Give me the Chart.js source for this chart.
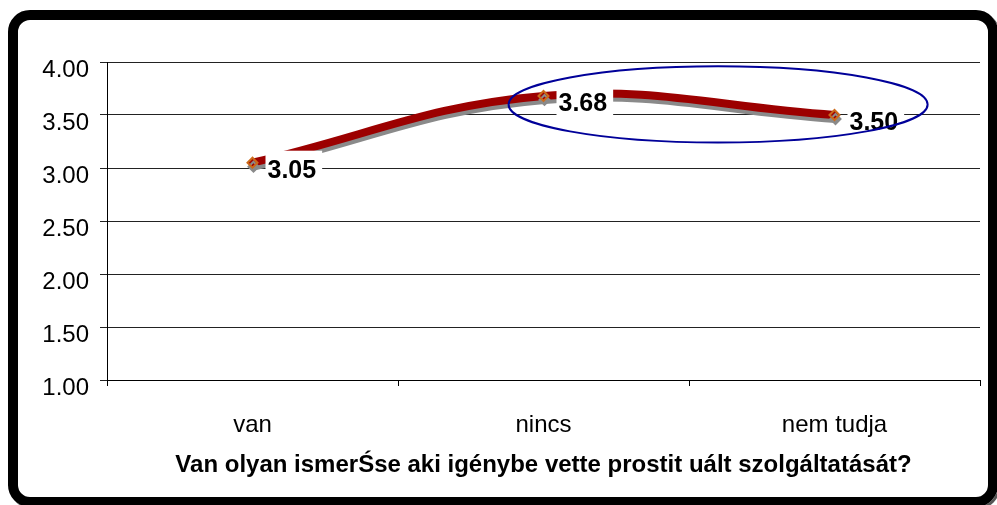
<!DOCTYPE html>
<html>
<head>
<meta charset="utf-8">
<script src="https://cdn.jsdelivr.net/npm/chart.js@4"></script>
<style>
  html, body { margin: 0; padding: 0; background: #fff; }
  #wrap { position: relative; width: 997px; height: 505px; overflow: hidden; }
  #frame {
    position: absolute; left: 8px; top: 10px; width: 970px; height: 477px;
    border: 10px solid #000; border-radius: 22px;
    box-shadow: 2px 2px 0 #555;
  }
  #holder { position: absolute; left: 0; top: 0; width: 997px; height: 505px; }
</style>
</head>
<body>
<div id="wrap">
  <div id="frame"></div>
  <div id="holder"><canvas id="line-chart"></canvas></div>
</div>
<script>
var categories = ["van", "nincs", "nem tudja"];
var means = [3.05, 3.68, 3.50];
var axisTitle = "Van olyan ismerŚse aki igénybe vette prostit uált szolgáltatását?";
// highlight ellipse: [center category index, center value, x radius (categories), y radius (values)]
var ellipse = [1.6, 3.60, 0.72, 0.36];

var FONT = "'Liberation Sans', Arial, sans-serif";

var shadowPlugin = {
  id: 'lineShadow',
  beforeDatasetDraw: function(chart) {
    var ctx = chart.ctx;
    ctx.save();
    ctx.shadowColor = '#8a8a8a';
    ctx.shadowOffsetX = 1;
    ctx.shadowOffsetY = 4;
    ctx.shadowBlur = 0;
  },
  afterDatasetDraw: function(chart) {
    chart.ctx.restore();
  }
};

var labelPlugin = {
  id: 'valueLabels',
  afterDatasetsDraw: function(chart) {
    var ctx = chart.ctx;
    var meta = chart.getDatasetMeta(0);
    ctx.save();
    ctx.font = 'bold 25px ' + FONT;
    ctx.textBaseline = 'middle';
    ctx.textAlign = 'left';
    meta.data.forEach(function(pt, i) {
      var txt = means[i].toFixed(2);
      var w = ctx.measureText(txt).width;
      var x = pt.x + 15, y = pt.y + 8;
      ctx.fillStyle = '#fff';
      ctx.fillRect(x - 2, y - 20, w + 8, 34);
      ctx.fillStyle = '#000';
      ctx.fillText(txt, x, y);
    });
    ctx.restore();
  }
};

var ellipsePlugin = {
  id: 'ellipse',
  afterDraw: function(chart) {
    var xs = chart.scales.x, ys = chart.scales.y;
    var cx = xs.getPixelForValue(ellipse[0]);
    var cy = ys.getPixelForValue(ellipse[1]);
    var rx = xs.getPixelForValue(ellipse[0] + ellipse[2]) - cx;
    var ry = cy - ys.getPixelForValue(ellipse[1] + ellipse[3]);
    var ctx = chart.ctx;
    ctx.save();
    ctx.strokeStyle = '#000099';
    ctx.lineWidth = 2;
    ctx.beginPath();
    ctx.ellipse(cx, cy, rx, ry, 0, 0, Math.PI * 2);
    ctx.stroke();
    ctx.restore();
  }
};

new Chart(document.getElementById("line-chart"), {
  type: 'line',
  data: {
    labels: categories,
    datasets: [{
      data: means,
      borderColor: '#9c0000',
      borderWidth: 8,
      tension: 0.4,
      fill: false,
      pointStyle: 'rectRot',
      pointRadius: 5,
      pointBackgroundColor: '#a00000',
      pointBorderColor: '#cc6a1a',
      pointBorderWidth: 2
    }]
  },
  plugins: [shadowPlugin, labelPlugin, ellipsePlugin],
  options: {
    responsive: true,
    maintainAspectRatio: false,
    animation: false,
    layout: { padding: { left: 0, right: 17, top: 62, bottom: 0 } },
    plugins: {
      legend: { display: false },
      tooltip: { enabled: false }
    },
    scales: {
      x: {
        offset: true,
        grid: { offset: true, drawOnChartArea: false, drawTicks: true, tickLength: 6, color: '#000' },
        border: { display: true, color: '#000', width: 1 },
        ticks: { color: '#000', padding: 25, font: { family: FONT, size: 24 } },
        title: {
          display: true, text: axisTitle, color: '#000',
          font: { family: FONT, size: 24, weight: 'bold' },
          padding: { top: 0, bottom: 25 }
        },
        afterFit: function(scale) { scale.height = 125; }
      },
      y: {
        min: 1, max: 4,
        grid: { color: '#222', lineWidth: 1, tickLength: 7 },
        border: { display: true, color: '#000', width: 1 },
        ticks: {
          stepSize: 0.5, color: '#000', padding: 11, labelOffset: 8,
          font: { family: FONT, size: 24 },
          callback: function(v) { return v.toFixed(2); }
        },
        afterFit: function(scale) { scale.width = 107; }
      }
    }
  }
});
</script>
</body>
</html>
